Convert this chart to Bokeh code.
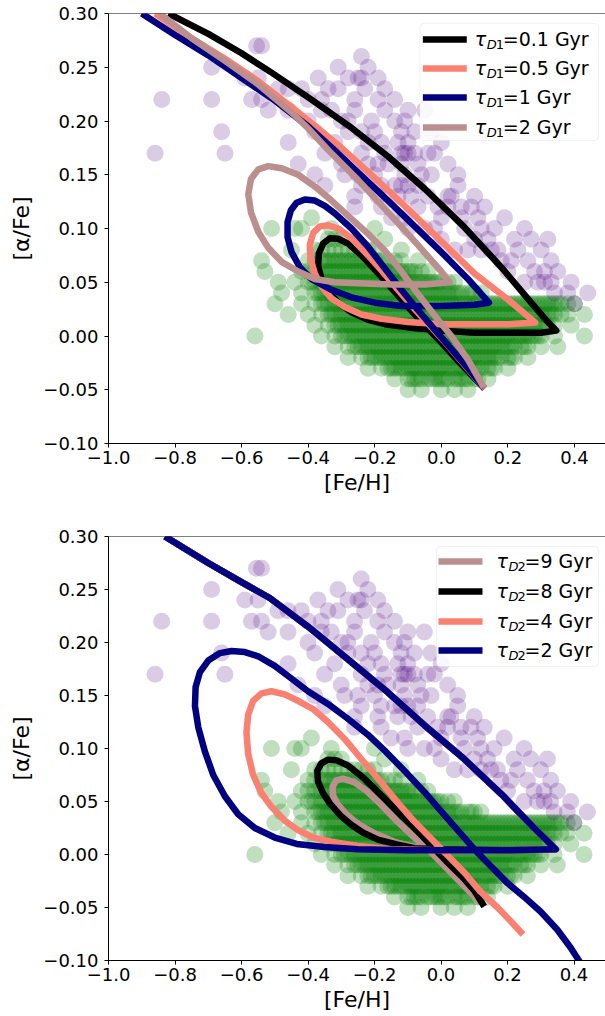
from bokeh.plotting import figure
from bokeh.layouts import column
from bokeh.models import Span, BoxAnnotation, Label, FixedTicker, CustomJSTickFormatter
from bokeh.embed import file_html
from bokeh.resources import INLINE

# ---------------- data ----------------
x_ticks = [-1.0, -0.8, -0.6, -0.4, -0.2, 0.0, 0.2, 0.4]
y_ticks = [-0.10, -0.05, 0.00, 0.05, 0.10, 0.15, 0.20, 0.25, 0.30]

# thin disc stars (green), grouped by [alpha/Fe] row
thin_rows_afe = [0.09, 0.08, 0.07, 0.06, 0.05, 0.04, 0.03, 0.02, 0.01, 0.00, -0.01, -0.02, -0.03, -0.04, -0.05]
thin_rows_feh = [
    [-0.34, -0.32, -0.30],
    [-0.38, -0.36, -0.34, -0.32, -0.30, -0.28, -0.26, -0.24, -0.22, -0.20],
    [-0.40, -0.38, -0.36, -0.34, -0.32, -0.30, -0.28, -0.26, -0.24, -0.22, -0.20, -0.18, -0.16, -0.14, -0.12],
    [-0.42, -0.40, -0.38, -0.36, -0.34, -0.32, -0.30, -0.28, -0.26, -0.24, -0.22, -0.20, -0.18, -0.16, -0.14,
     -0.12, -0.10, -0.08, -0.06, -0.04],
    [-0.44, -0.40, -0.38, -0.36, -0.34, -0.32, -0.30, -0.28, -0.26, -0.24, -0.22, -0.20, -0.18, -0.16, -0.14,
     -0.12, -0.10, -0.08, -0.06, -0.04, -0.02, 0.00, 0.02, 0.04],
    [-0.42, -0.38, -0.36, -0.34, -0.32, -0.30, -0.28, -0.26, -0.24, -0.22, -0.20, -0.18, -0.16, -0.14, -0.12,
     -0.10, -0.08, -0.06, -0.04, -0.02, 0.00, 0.02, 0.04, 0.06, 0.08, 0.10, 0.12],
    [-0.42, -0.38, -0.36, -0.34, -0.32, -0.30, -0.28, -0.26, -0.24, -0.22, -0.20, -0.18, -0.16, -0.14, -0.12,
     -0.10, -0.08, -0.06, -0.04, -0.02, 0.00, 0.02, 0.04, 0.06, 0.08, 0.10, 0.12, 0.14, 0.16, 0.18, 0.20, 0.22,
     0.24, 0.26, 0.28, 0.30, 0.32, 0.34, 0.36, 0.38, 0.40],
    [-0.40, -0.36, -0.34, -0.32, -0.30, -0.28, -0.26, -0.24, -0.22, -0.20, -0.18, -0.16, -0.14, -0.12, -0.10,
     -0.08, -0.06, -0.04, -0.02, 0.00, 0.02, 0.04, 0.06, 0.08, 0.10, 0.12, 0.14, 0.16, 0.18, 0.20, 0.22, 0.24,
     0.26, 0.28, 0.30, 0.32, 0.34, 0.36, 0.38],
    [-0.38, -0.34, -0.32, -0.30, -0.28, -0.26, -0.24, -0.22, -0.20, -0.18, -0.16, -0.14, -0.12, -0.10, -0.08,
     -0.06, -0.04, -0.02, 0.00, 0.02, 0.04, 0.06, 0.08, 0.10, 0.12, 0.14, 0.16, 0.18, 0.20, 0.22, 0.24, 0.26,
     0.28, 0.30, 0.32, 0.34],
    [-0.36, -0.32, -0.30, -0.28, -0.26, -0.24, -0.22, -0.20, -0.18, -0.16, -0.14, -0.12, -0.10, -0.08, -0.06,
     -0.04, -0.02, 0.00, 0.02, 0.04, 0.06, 0.08, 0.10, 0.12, 0.14, 0.16, 0.18, 0.20, 0.22, 0.24, 0.26, 0.28,
     0.30, 0.34],
    [-0.32, -0.28, -0.26, -0.24, -0.22, -0.20, -0.18, -0.16, -0.14, -0.12, -0.10, -0.08, -0.06, -0.04, -0.02,
     0.00, 0.02, 0.04, 0.06, 0.08, 0.10, 0.12, 0.14, 0.16, 0.18, 0.20, 0.22, 0.24, 0.26, 0.30],
    [-0.28, -0.24, -0.22, -0.20, -0.18, -0.16, -0.14, -0.12, -0.10, -0.08, -0.06, -0.04, -0.02, 0.00, 0.02,
     0.04, 0.06, 0.08, 0.10, 0.12, 0.14, 0.16, 0.18, 0.20, 0.22, 0.26],
    [-0.22, -0.18, -0.16, -0.14, -0.12, -0.10, -0.08, -0.06, -0.04, -0.02, 0.00, 0.02, 0.04, 0.06, 0.08,
     0.10, 0.12, 0.14, 0.16, 0.20],
    [-0.14, -0.10, -0.08, -0.06, -0.04, -0.02, 0.00, 0.02, 0.04, 0.06, 0.08, 0.10, 0.14],
    [-0.10, -0.06, 0.00, 0.04, 0.08],
]
# second (interleaved) set of thin disc stars in the crowded core
thin_core_afe = [0.07, 0.06, 0.05, 0.04, 0.03, 0.02, 0.01, 0.00, -0.01, -0.02, -0.03, -0.04]
thin_core_feh = [
    [-0.35, -0.33, -0.31, -0.29, -0.27, -0.25, -0.23, -0.21, -0.19],
    [-0.37, -0.35, -0.33, -0.31, -0.29, -0.27, -0.25, -0.23, -0.21, -0.19, -0.17, -0.15, -0.13, -0.11, -0.09],
    [-0.39, -0.35, -0.33, -0.31, -0.29, -0.27, -0.25, -0.23, -0.21, -0.19, -0.17, -0.15, -0.13, -0.11, -0.09,
     -0.07, -0.05, -0.03, -0.01],
    [-0.37, -0.35, -0.33, -0.31, -0.29, -0.27, -0.25, -0.23, -0.21, -0.19, -0.17, -0.15, -0.13, -0.11, -0.09,
     -0.07, -0.05, -0.03, -0.01, 0.01, 0.03, 0.05, 0.09],
    [-0.35, -0.33, -0.31, -0.29, -0.27, -0.25, -0.23, -0.21, -0.19, -0.17, -0.15, -0.13, -0.11, -0.09, -0.07,
     -0.05, -0.03, -0.01, 0.01, 0.03, 0.05, 0.07, 0.09, 0.11, 0.13, 0.15, 0.17, 0.19, 0.21, 0.23, 0.25, 0.27,
     0.29, 0.31, 0.33, 0.35],
    [-0.33, -0.31, -0.29, -0.27, -0.25, -0.23, -0.21, -0.19, -0.17, -0.15, -0.13, -0.11, -0.09, -0.07, -0.05,
     -0.03, -0.01, 0.01, 0.03, 0.05, 0.07, 0.09, 0.11, 0.13, 0.15, 0.17, 0.19, 0.21, 0.23, 0.25, 0.27, 0.29,
     0.31, 0.33],
    [-0.31, -0.29, -0.27, -0.25, -0.23, -0.21, -0.19, -0.17, -0.15, -0.13, -0.11, -0.09, -0.07, -0.05, -0.03,
     -0.01, 0.01, 0.03, 0.05, 0.07, 0.09, 0.11, 0.13, 0.15, 0.17, 0.19, 0.21, 0.23, 0.25, 0.27, 0.29, 0.31],
    [-0.29, -0.27, -0.25, -0.23, -0.21, -0.19, -0.17, -0.15, -0.13, -0.11, -0.09, -0.07, -0.05, -0.03, -0.01,
     0.01, 0.03, 0.05, 0.07, 0.09, 0.11, 0.13, 0.15, 0.17, 0.19, 0.21, 0.23, 0.25, 0.27, 0.29],
    [-0.25, -0.23, -0.21, -0.19, -0.17, -0.15, -0.13, -0.11, -0.09, -0.07, -0.05, -0.03, -0.01, 0.01, 0.03,
     0.05, 0.07, 0.09, 0.11, 0.13, 0.15, 0.17, 0.19, 0.21, 0.25],
    [-0.21, -0.19, -0.17, -0.15, -0.13, -0.11, -0.09, -0.07, -0.05, -0.03, -0.01, 0.01, 0.03, 0.05, 0.07,
     0.09, 0.11, 0.13, 0.15, 0.17, 0.21],
    [-0.15, -0.13, -0.11, -0.09, -0.07, -0.05, -0.03, -0.01, 0.01, 0.03, 0.05, 0.07, 0.09, 0.11, 0.15],
    [-0.09, -0.07, -0.03, -0.01, 0.01, 0.05, 0.07, 0.11],
]
thin_extra_feh = [-0.56, -0.54, -0.53, -0.51, -0.50, -0.49, -0.46, -0.44, -0.42, -0.39, -0.33,
                  -0.20, -0.17, -0.12, -0.07, 0.43, 0.43, 0.35, 0.39, -0.45, -0.48]
thin_extra_afe = [0.00, 0.07, 0.06, 0.10, 0.03, 0.05, 0.02, 0.10, 0.10, 0.11, 0.10,
                  0.10, 0.09, 0.08, 0.07, 0.02, 0.00, -0.01, 0.01, 0.08, 0.04]

# thick disc stars (purple), grouped by [alpha/Fe] row
thick_rows_afe = [0.27, 0.26, 0.25, 0.24, 0.23, 0.22, 0.21, 0.20, 0.19, 0.18, 0.17, 0.16, 0.15,
                  0.14, 0.13, 0.12, 0.11, 0.10, 0.09, 0.08, 0.07, 0.06, 0.05, 0.04, 0.03]
thick_rows_feh = [
    [-0.555, -0.54],
    [-0.24],
    [-0.69, -0.31, -0.22],
    [-0.59, -0.55, -0.37, -0.28, -0.25, -0.24, -0.19],
    [-0.49, -0.46, -0.42, -0.34, -0.31, -0.23, -0.17],
    [-0.84, -0.69, -0.57, -0.54, -0.40, -0.36, -0.26, -0.19, -0.14],
    [-0.52, -0.46, -0.36, -0.33, -0.26, -0.17, -0.10, -0.05],
    [-0.40, -0.30, -0.28, -0.21, -0.14, -0.11],
    [-0.66, -0.38, -0.28, -0.24, -0.20, -0.12, -0.08, -0.03],
    [-0.46, -0.32, -0.22, -0.18, -0.13, -0.10, 0.00],
    [-0.86, -0.65, -0.35, -0.24, -0.17, -0.12, -0.11, -0.10, -0.08, -0.04, -0.02],
    [-0.43, -0.30, -0.22, -0.19, -0.16, -0.12, -0.07, 0.02],
    [-0.38, -0.29, -0.25, -0.20, -0.11, -0.06, -0.03, 0.05],
    [-0.35, -0.24, -0.18, -0.14, -0.12, -0.10, -0.07, 0.05],
    [-0.26, -0.19, -0.13, -0.09, -0.04, 0.02, 0.03, 0.10],
    [-0.26, -0.18, -0.07, -0.01, 0.02, 0.06, 0.09, 0.13],
    [-0.15, -0.11, 0.00, 0.06, 0.11, 0.19],
    [-0.10, -0.05, -0.02, 0.07, 0.12, 0.16, 0.25],
    [0.00, 0.10, 0.14, 0.22, 0.27, 0.32],
    [0.04, 0.08, 0.12, 0.15, 0.17, 0.23, 0.30],
    [0.18, 0.21, 0.26, 0.33],
    [0.20, 0.28, 0.31, 0.35],
    [0.25, 0.29, 0.31, 0.33, 0.39],
    [0.34, 0.38, 0.44],
    [0.40],
]

# top panel: tau_D1 tracks
d1_taus = ["0.1", "0.5", "1", "2"]
d1_colors = ["#000000", "#fa8072", "#000080", "#bc8f8f"]
d1_feh = [
    [-0.82, -0.70, -0.60, -0.51, -0.40, -0.28, -0.16, -0.05, 0.07, 0.18, 0.27, 0.32, 0.345,
     0.30, 0.20, 0.10, 0.00, -0.10, -0.17, -0.22, -0.27, -0.31, -0.34, -0.36, -0.37, -0.368, -0.355,
     -0.335, -0.31, -0.28, -0.24, -0.18, -0.14, -0.10, -0.05, 0.00, 0.05, 0.09, 0.13],
    [-0.86, -0.75, -0.65, -0.55, -0.45, -0.37, -0.30, -0.20, -0.10, 0.00, 0.10, 0.20, 0.282,
     0.20, 0.10, 0.00, -0.10, -0.18, -0.24, -0.29, -0.33, -0.36, -0.38, -0.393, -0.395, -0.385, -0.365,
     -0.34, -0.31, -0.27, -0.22, -0.18, -0.13, -0.08, -0.03, 0.02, 0.07, 0.13],
    [-0.90, -0.80, -0.70, -0.60, -0.50, -0.40, -0.325, -0.25, -0.16, -0.08, 0.00, 0.08, 0.143,
     0.10, 0.00, -0.12, -0.20, -0.27, -0.33, -0.39, -0.425, -0.45, -0.462, -0.462, -0.452, -0.435, -0.41,
     -0.38, -0.35, -0.32, -0.27, -0.22, -0.17, -0.12, -0.07, -0.02, 0.03, 0.08, 0.128],
    [-0.846, -0.75, -0.65, -0.55, -0.45, -0.40, -0.34, -0.25, -0.16, -0.08, 0.00, 0.025,
     -0.05, -0.15, -0.25, -0.32, -0.38, -0.43, -0.48, -0.52, -0.55, -0.572, -0.58, -0.572, -0.55, -0.52,
     -0.48, -0.43, -0.38, -0.33, -0.27, -0.22, -0.17, -0.12, -0.07, -0.02, 0.03, 0.08, 0.128],
]
d1_afe = [
    [0.300, 0.281, 0.263, 0.245, 0.222, 0.196, 0.167, 0.137, 0.101, 0.064, 0.031, 0.013, 0.005,
     0.003, 0.003, 0.003, 0.005, 0.008, 0.011, 0.015, 0.022, 0.031, 0.042, 0.053, 0.065, 0.077, 0.086,
     0.091, 0.0905, 0.086, 0.075, 0.055, 0.041, 0.027, 0.010, -0.006, -0.023, -0.036, -0.049],
    [0.300, 0.277, 0.258, 0.237, 0.213, 0.193, 0.175, 0.147, 0.118, 0.088, 0.058, 0.034, 0.0125,
     0.011, 0.011, 0.011, 0.013, 0.016, 0.020, 0.027, 0.035, 0.046, 0.058, 0.072, 0.085, 0.096, 0.102,
     0.103, 0.100, 0.091, 0.075, 0.061, 0.043, 0.025, 0.008, -0.009, -0.027, -0.049],
    [0.300, 0.280, 0.261, 0.240, 0.219, 0.195, 0.174, 0.152, 0.126, 0.102, 0.078, 0.053, 0.031,
     0.029, 0.028, 0.028, 0.031, 0.036, 0.043, 0.053, 0.064, 0.078, 0.092, 0.106, 0.117, 0.124, 0.127,
     0.126, 0.121, 0.114, 0.100, 0.083, 0.063, 0.043, 0.024, 0.006, -0.012, -0.030, -0.048],
    [0.300, 0.277, 0.256, 0.234, 0.208, 0.193, 0.173, 0.145, 0.115, 0.088, 0.060, 0.050,
     0.048, 0.048, 0.049, 0.050, 0.053, 0.060, 0.069, 0.082, 0.097, 0.115, 0.132, 0.146, 0.155, 0.158,
     0.156, 0.150, 0.139, 0.126, 0.109, 0.095, 0.0795, 0.060, 0.039, 0.019, 0.000, -0.022, -0.048],
]

# bottom panel: tau_D2 tracks
d2_taus = ["9", "8", "4", "2"]
d2_colors = ["#bc8f8f", "#000000", "#fa8072", "#000080"]
d2_feh = [
    [-0.83, -0.70, -0.60, -0.515, -0.40, -0.283, -0.16, -0.05, 0.07, 0.183, 0.28, 0.345,
     0.20, 0.00, -0.08, -0.14, -0.20, -0.25, -0.285, -0.31, -0.325, -0.326, -0.315, -0.295, -0.26, -0.224,
     -0.18, -0.133, -0.08, -0.033, 0.02, 0.07, 0.12],
    [-0.83, -0.70, -0.60, -0.515, -0.40, -0.283, -0.16, -0.05, 0.07, 0.183, 0.28, 0.345,
     0.20, 0.00, -0.08, -0.133, -0.19, -0.234, -0.27, -0.30, -0.334, -0.355, -0.37, -0.372, -0.36, -0.34,
     -0.315, -0.28, -0.234, -0.18, -0.133, -0.08, -0.033, 0.015, 0.067, 0.10, 0.13],
    [-0.83, -0.70, -0.60, -0.515, -0.40, -0.283, -0.16, -0.05, 0.07, 0.183, 0.28, 0.345,
     0.20, 0.00, -0.15, -0.25, -0.33, -0.384, -0.43, -0.47, -0.51, -0.54, -0.565, -0.58, -0.585, -0.58,
     -0.565, -0.54, -0.51, -0.47, -0.43, -0.384, -0.34, -0.29, -0.234, -0.18, -0.13, -0.083, -0.03, 0.017,
     0.07, 0.117, 0.17, 0.21, 0.2465],
    [-0.83, -0.70, -0.60, -0.515, -0.40, -0.283, -0.16, -0.05, 0.07, 0.183, 0.28, 0.345,
     0.20, 0.066, -0.10, -0.25, -0.35, -0.434, -0.50, -0.56, -0.61, -0.65, -0.685, -0.71, -0.73, -0.74,
     -0.738, -0.725, -0.70, -0.665, -0.63, -0.59, -0.55, -0.50, -0.45, -0.40, -0.34, -0.284, -0.22, -0.166,
     -0.11, -0.05, 0.00, 0.05, 0.10, 0.15, 0.20, 0.25, 0.30, 0.35, 0.39, 0.425],
]
d2_afe = [
    [0.300, 0.275, 0.257, 0.242, 0.215, 0.185, 0.153, 0.122, 0.090, 0.0565, 0.025, 0.005,
     0.004, 0.005, 0.007, 0.012, 0.020, 0.029, 0.038, 0.047, 0.056, 0.064, 0.070, 0.0715, 0.068, 0.060,
     0.047, 0.0316, 0.016, 0.003, -0.014, -0.030, -0.046],
    [0.300, 0.275, 0.257, 0.242, 0.215, 0.185, 0.153, 0.122, 0.090, 0.0565, 0.025, 0.005,
     0.004, 0.005, 0.006, 0.0095, 0.014, 0.0205, 0.028, 0.036, 0.048, 0.058, 0.069, 0.079, 0.086, 0.0895,
     0.089, 0.084, 0.0725, 0.056, 0.041, 0.025, 0.0096, -0.006, -0.022, -0.034, -0.049],
    [0.300, 0.275, 0.257, 0.242, 0.215, 0.185, 0.153, 0.122, 0.090, 0.0565, 0.025, 0.005,
     0.004, 0.004, 0.005, 0.008, 0.012, 0.016, 0.023, 0.032, 0.045, 0.058, 0.075, 0.095, 0.115, 0.132,
     0.145, 0.152, 0.154, 0.151, 0.145, 0.137, 0.125, 0.109, 0.088, 0.068, 0.049, 0.032, 0.015, 0.000,
     -0.017, -0.0345, -0.050, -0.063, -0.0755],
    [0.300, 0.275, 0.257, 0.242, 0.215, 0.185, 0.153, 0.122, 0.090, 0.0565, 0.025, 0.005,
     0.004, 0.004, 0.004, 0.005, 0.007, 0.010, 0.016, 0.025, 0.038, 0.055, 0.075, 0.097, 0.120, 0.140,
     0.158, 0.172, 0.183, 0.190, 0.192, 0.191, 0.187, 0.178, 0.166, 0.154, 0.142, 0.129, 0.113, 0.097,
     0.079, 0.059, 0.041, 0.023, 0.005, -0.011, -0.027, -0.040, -0.054, -0.071, -0.088, -0.105],
]

FONT = "DejaVu Sans"
LW = 6.5


def flatten(rows_afe, rows_feh):
    xs, ys = [], []
    for a, row in zip(rows_afe, rows_feh):
        for f in row:
            xs.append(f)
            ys.append(a)
    return xs, ys


thin_x, thin_y = flatten(thin_rows_afe, thin_rows_feh)
core_x, core_y = flatten(thin_core_afe, thin_core_feh)
thin_x += core_x + thin_extra_feh
thin_y += core_y + thin_extra_afe
thick_x, thick_y = flatten(thick_rows_afe, thick_rows_feh)

PAGE_W = 605


def make_panel(height, border_left, border_top, border_bottom, px_per_unit_x):
    frame_w = PAGE_W - border_left
    x_end = -1.0 + frame_w / px_per_unit_x
    p = figure(width=PAGE_W, height=height, x_range=(-1.0, x_end), y_range=(-0.10, 0.30),
               output_backend="svg", toolbar_location=None,
               min_border_left=border_left, min_border_right=0,
               min_border_top=border_top, min_border_bottom=border_bottom)
    p.outline_line_color = None
    p.grid.visible = False
    p.background_fill_color = "white"
    p.border_fill_color = "white"
    for ax in (p.xaxis[0], p.yaxis[0]):
        ax.axis_line_color = "black"
        ax.axis_line_width = 1
        ax.major_tick_line_color = "black"
        ax.major_tick_in = 0
        ax.major_tick_out = 4
        ax.minor_tick_in = 0
        ax.minor_tick_out = 0
        ax.major_label_text_font = FONT
        ax.major_label_text_font_size = "18px"
        ax.major_label_text_color = "black"
        ax.axis_label_text_font = FONT
        ax.axis_label_text_font_size = "22px"
        ax.axis_label_text_font_style = "normal"
        ax.axis_label_text_color = "black"
    p.xaxis.ticker = FixedTicker(ticks=x_ticks)
    p.yaxis.ticker = FixedTicker(ticks=y_ticks)
    p.xaxis.formatter = CustomJSTickFormatter(code="return tick.toFixed(1).replace('-', '\\u2212');")
    p.yaxis.formatter = CustomJSTickFormatter(code="return tick.toFixed(2).replace('-', '\\u2212');")
    p.xaxis.major_label_standoff = 3
    p.yaxis.major_label_standoff = 6
    p.xaxis.axis_label_standoff = 3
    p.yaxis.axis_label_standoff = 6
    p.xaxis.axis_label = "[Fe/H]"
    p.yaxis.axis_label = "[α/Fe]"
    p.add_layout(Span(location=0.30, dimension="width", line_color="black", line_width=1))
    p.scatter(thin_x, thin_y, size=17, fill_color="green", fill_alpha=0.25, line_color=None)
    p.scatter(thick_x, thick_y, size=17, fill_color="indigo", fill_alpha=0.2, line_color=None)
    return p, x_end


def add_legend(p, geom, box, rows, sw_x, txt_x, colors, sub, values):
    left, top, w, h, x0, x1, y0, y1 = geom

    def dx(px):
        return x0 + (px - left) / w * (x1 - x0)

    def dy(py):
        return y1 - (py - top) / h * (y1 - y0)

    p.add_layout(BoxAnnotation(left=dx(box[0]), right=dx(box[1]), top=dy(box[2]), bottom=dy(box[3]),
                               fill_color="white", fill_alpha=0.85, line_color="#d0d0d0",
                               line_width=1, border_radius=4))
    for ry, c, v in zip(rows, colors, values):
        p.add_layout(BoxAnnotation(left=dx(sw_x[0]), right=dx(sw_x[1]), top=dy(ry - 3.25),
                                   bottom=dy(ry + 3.25), fill_color=c, fill_alpha=1.0, line_color=None))
        p.add_layout(Label(x=dx(txt_x), y=dy(ry - 1), text="τ", text_font=FONT, text_font_size="19px",
                           text_font_style="italic", text_baseline="middle", text_color="black"))
        p.add_layout(Label(x=dx(txt_x + 12), y=dy(ry + 5), text="D", text_font=FONT, text_font_size="13px",
                           text_font_style="italic", text_baseline="middle", text_color="black"))
        p.add_layout(Label(x=dx(txt_x + 21), y=dy(ry + 5), text=sub, text_font=FONT, text_font_size="13px",
                           text_baseline="middle", text_color="black"))
        p.add_layout(Label(x=dx(txt_x + 28), y=dy(ry - 1), text="=" + v + " Gyr", text_font=FONT,
                           text_font_size="19px", text_baseline="middle", text_color="black"))


# ---------------- top panel ----------------
p1, x1_end = make_panel(505, 107, 13, 62, 333.5)
for fx, ay, c in zip(d1_feh, d1_afe, d1_colors):
    p1.line(fx, ay, line_color=c, line_width=LW, line_join="round", line_cap="butt")
geom1 = (107, 13, 498, 430, -1.0, x1_end, -0.10, 0.30)
add_legend(p1, geom1, (419, 598, 23, 140), [39, 68, 97, 127], (422, 466), 474, d1_colors, "1", d1_taus)

# ---------------- bottom panel ----------------
p2, x2_end = make_panel(511, 108, 31, 56, 332.5)
for fx, ay, c in zip(d2_feh, d2_afe, d2_colors):
    p2.line(fx, ay, line_color=c, line_width=LW, line_join="round", line_cap="butt")
geom2 = (108, 536, 497, 424, -1.0, x2_end, -0.10, 0.30)
add_legend(p2, geom2, (436, 598, 546, 666), [561, 591, 621, 650], (438, 482), 496, d2_colors, "2", d2_taus)

layout = column(p1, p2, spacing=0)
open("out.html", "w").write(file_html(layout, INLINE))
